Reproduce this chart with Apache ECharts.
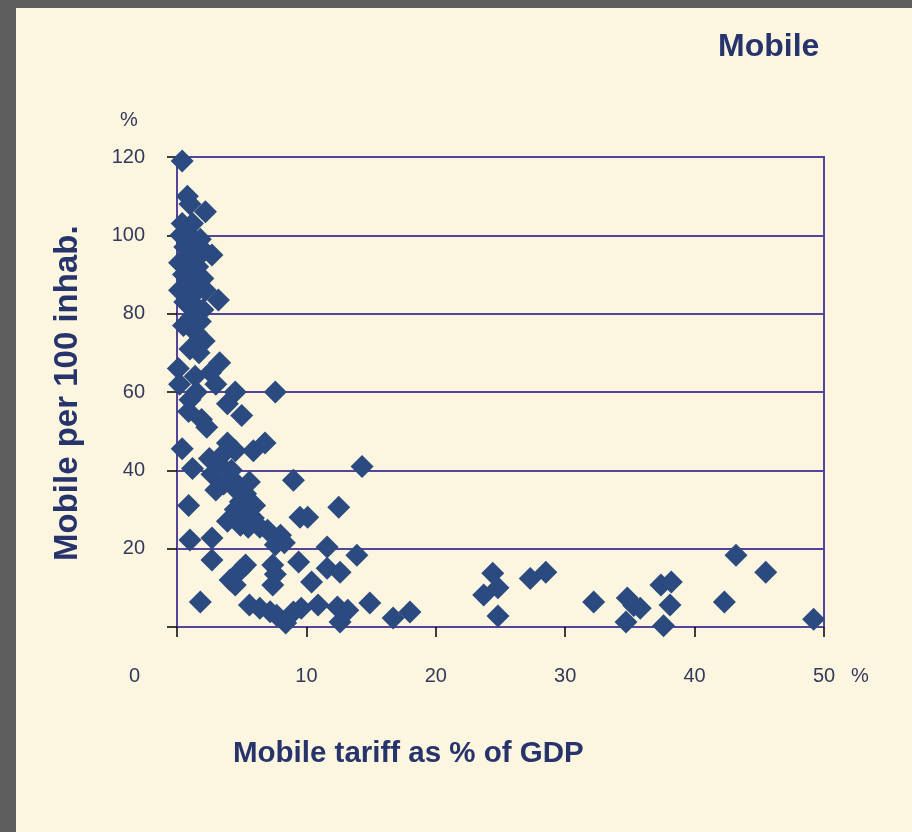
<!DOCTYPE html>
<html><head><meta charset="utf-8">
<script src="https://cdn.jsdelivr.net/npm/echarts@6/dist/echarts.min.js"></script>
<style>html,body{margin:0;padding:0;background:#5e5e5e}#c{width:912px;height:832px}</style>
</head><body><div id="c"></div>
<script>
// Mobile tariff as % of GDP (x) and mobile subscribers per 100 inhabitants (y)
const tariffPct = [
  0.4,0.8,1.0,2.2,0.4,1.2,0.3,1.0,1.8,0.6,1.5,2.1,2.7,0.2,1.0,1.6,0.5,1.3,2.0,0.2,
  0.9,1.6,2.2,3.2,0.6,1.4,2.0,1.1,1.8,0.5,1.5,2.1,1.0,1.7,3.3,0.1,2.6,1.4,0.2,3.0,
  1.5,4.5,7.6,1.0,3.9,5.0,0.9,1.9,2.3,0.4,3.9,4.5,5.9,6.8,1.2,3.3,2.7,4.2,3.6,4.6,
  5.3,4.9,5.4,9.0,14.3,0.9,3.9,4.9,5.9,6.4,7.0,8.0,9.5,10.1,12.5,1.0,2.7,2.7,4.1,4.5,
  4.9,5.3,7.4,7.4,9.4,11.6,13.9,11.6,12.6,10.4,1.8,5.6,6.4,7.2,7.7,8.4,9.0,9.6,10.9,12.4,
  12.6,13.2,14.9,16.7,18.0,23.7,24.4,24.8,24.8,27.3,28.5,32.2,34.8,34.7,35.3,35.8,37.4,38.2,38.1,37.6,
  42.3,43.2,45.5,49.2,7.6,8.3,4.2,3.0,5.6,6.0,4.5,2.5,3.5,5.5,7.6
];
const mobilePer100 = [
  119,110,108,106,103,103,100,100,99,97,97,96,95,93,93,92,90,90,89,86,
  86,86,86,83.5,83,82,81,79,78,77,75,73,71,70,67.5,66,65,64,62,62,
  60,60,60,58,57,54,55,53,51,45.5,47,45,45,47,40.5,41.5,39,38,36.5,35,
  34,32,30,37.5,41,31,27,26,27.8,25.5,24.7,23.4,28,28,30.6,22.2,22.7,17.1,12,10.7,
  14.5,15.8,15.8,10.7,16.6,20.4,18.3,15,14,11.5,6.4,5.6,4.8,3.9,3,1,3.8,4.8,5.6,5.1,
  1.3,4.3,6.1,2.3,3.8,8.2,13.7,10,2.8,12.4,14,6.4,7.4,1.3,5.5,4.8,10.7,11.5,5.6,0.3,
  6.4,18.3,14,2,21,21.5,40,35,37,31,30,43,44,25.5,13.5
];
const xTicks = [0, 10, 20, 30, 40, 50];
const yTicks = [0, 20, 40, 60, 80, 100, 120];
const titleText = 'Mobile';
const xName = 'Mobile tariff as % of GDP';
const yName = 'Mobile per 100 inhab.';

const points = tariffPct.map((x, i) => [x, mobilePer100[i]]);

const FONT = '"Liberation Sans", Arial, sans-serif';
const NAVY = '#27346b';
const LABEL = '#34395a';
const GRID = '#54449a';

const chart = echarts.init(document.getElementById('c'), null, {renderer: 'canvas'});
chart.setOption({
  backgroundColor: '#5e5e5e',
  animation: false,
  graphic: [
    {type: 'rect', z: -10, shape: {x: 16, y: 8, width: 896, height: 824}, style: {fill: '#fcf6e0'}, silent: true},
    {type: 'text', left: 718, top: 31, style: {text: titleText, fill: NAVY, font: 'bold 32px ' + FONT}},
    {type: 'text', left: 120, top: 110, style: {text: '%', fill: LABEL, font: '20px ' + FONT}},
    {type: 'text', left: 129, top: 666, style: {text: String(xTicks[0]), fill: LABEL, font: '20px ' + FONT}},
    {type: 'text', left: 851, top: 666, style: {text: '%', fill: LABEL, font: '20px ' + FONT}},
    {type: 'text', left: 233, top: 739, style: {text: xName, fill: NAVY, font: 'bold 29.5px ' + FONT}},
    {type: 'text', x: 68, y: 561, rotation: Math.PI / 2, style: {text: yName, fill: NAVY, font: 'bold 33px ' + FONT, textAlign: 'left', textVerticalAlign: 'middle'}}
  ],
  grid: {left: 177, top: 157, width: 647, height: 470, show: true, borderColor: GRID, borderWidth: 2, backgroundColor: 'transparent'},
  xAxis: {
    type: 'value', min: xTicks[0], max: xTicks[xTicks.length - 1], interval: 10,
    axisLine: {show: true, lineStyle: {color: GRID, width: 2}},
    axisTick: {show: true, length: 10, lineStyle: {color: '#000', width: 1.5}},
    axisLabel: {margin: 39, fontSize: 20, fontFamily: FONT, color: LABEL,
      formatter: v => (v === 0 ? '' : String(v))},
    splitLine: {show: false}
  },
  yAxis: {
    type: 'value', min: yTicks[0], max: yTicks[yTicks.length - 1], interval: 20,
    axisLine: {show: true, lineStyle: {color: GRID, width: 2}},
    axisTick: {show: true, length: 10, lineStyle: {color: '#000', width: 1.5}},
    axisLabel: {margin: 32, fontSize: 20, fontFamily: FONT, color: LABEL,
      formatter: v => (v === 0 ? '' : String(v))},
    splitLine: {show: true, lineStyle: {color: GRID, width: 2}}
  },
  series: [{
    type: 'scatter',
    data: points,
    symbol: 'diamond',
    symbolSize: 23,
    itemStyle: {color: '#2b4a7f', opacity: 1},
    clip: false
  }]
});
</script>
</body></html>
